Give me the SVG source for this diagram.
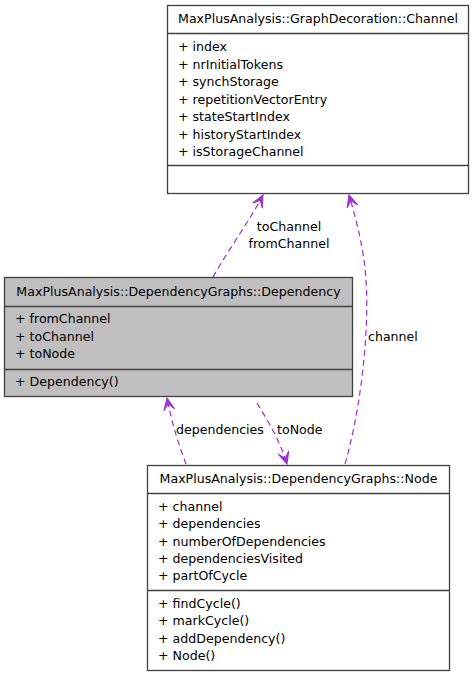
<svg xmlns="http://www.w3.org/2000/svg" width="475" height="677" viewBox="0 0 475 677">
<style>
.box{fill:#fff;stroke:#404040;stroke-width:1.3}
.hl{fill:#bfbfbf}
.sep{stroke:#404040;stroke-width:1.3}
text{font-family:"DejaVu Sans","Liberation Sans",sans-serif;font-size:12.6px;fill:#000}
.c{text-anchor:middle}
.e{fill:none;stroke:#9a32cd;stroke-width:1.2;stroke-dasharray:6,4}
</style>
<defs>
<marker id="vee" viewBox="-13 -7 14 14" refX="0" refY="0" markerWidth="14" markerHeight="14" markerUnits="userSpaceOnUse" orient="auto">
<path d="M0,0 L-12,-5.5 L-6,0 L-12,5.5 Z" fill="#9a32cd" stroke="#9a32cd" stroke-width="1"/>
</marker>
</defs>
<g id="edges">
<path class="e" d="M213,277 C228,250 249,222 263,195" marker-end="url(#vee)"/>
<text class="c" x="289" y="231">toChannel</text>
<text class="c" x="289" y="248">fromChannel</text>
<path class="e" d="M345,464 C358,420 370,340 366,280 C364,250 357,222 349,195" marker-end="url(#vee)"/>
<text x="368" y="341">channel</text>
<path class="e" d="M186,464 C180,448 172,425 167,398" marker-end="url(#vee)"/>
<text x="176" y="434">dependencies</text>
<path class="e" d="M257,403 C266,418 279,438 287,464" marker-end="url(#vee)"/>
<text x="277" y="434">toNode</text>
</g>
<g id="channel">
<rect class="box" x="167.5" y="5.5" width="301" height="188"/>
<line class="sep" x1="167.5" y1="33.5" x2="468.5" y2="33.5"/>
<line class="sep" x1="167.5" y1="165.5" x2="468.5" y2="165.5"/>
<text class="c" x="318" y="23">MaxPlusAnalysis::GraphDecoration::Channel</text>
<text x="178" y="51">+ index</text>
<text x="178" y="68.5">+ nrInitialTokens</text>
<text x="178" y="86">+ synchStorage</text>
<text x="178" y="103.5">+ repetitionVectorEntry</text>
<text x="178" y="121">+ stateStartIndex</text>
<text x="178" y="138.5">+ historyStartIndex</text>
<text x="178" y="156">+ isStorageChannel</text>
</g>
<g id="dependency">
<rect class="box hl" x="4.5" y="277.5" width="348" height="119"/>
<line class="sep" x1="4.5" y1="306.5" x2="352.5" y2="306.5"/>
<line class="sep" x1="4.5" y1="369.5" x2="352.5" y2="369.5"/>
<text class="c" x="178.5" y="296">MaxPlusAnalysis::DependencyGraphs::Dependency</text>
<text x="15" y="323">+ fromChannel</text>
<text x="15" y="340.5">+ toChannel</text>
<text x="15" y="358">+ toNode</text>
<text x="15" y="386">+ Dependency()</text>
</g>
<g id="node">
<rect class="box" x="147.5" y="465.5" width="302" height="205"/>
<line class="sep" x1="147.5" y1="493.5" x2="449.5" y2="493.5"/>
<line class="sep" x1="147.5" y1="590.5" x2="449.5" y2="590.5"/>
<text class="c" x="298.5" y="483">MaxPlusAnalysis::DependencyGraphs::Node</text>
<text x="158" y="511">+ channel</text>
<text x="158" y="528">+ dependencies</text>
<text x="158" y="545.5">+ numberOfDependencies</text>
<text x="158" y="563">+ dependenciesVisited</text>
<text x="158" y="580">+ partOfCycle</text>
<text x="158" y="608">+ findCycle()</text>
<text x="158" y="625">+ markCycle()</text>
<text x="158" y="642.5">+ addDependency()</text>
<text x="158" y="659.5">+ Node()</text>
</g>
</svg>
